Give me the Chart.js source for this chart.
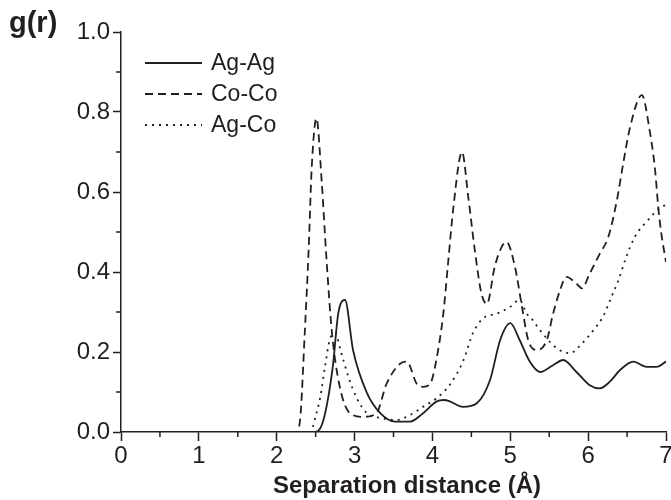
<!DOCTYPE html>
<html>
<head>
<meta charset="utf-8">
<script src="https://cdn.jsdelivr.net/npm/chart.js@4.4.1/dist/chart.umd.min.js"></script>
<style>
  html, body { margin: 0; padding: 0; background: #fff; }
</style>
</head>
<body>
<canvas id="rdfChart" width="671" height="500"></canvas>
<script>
// values (r in Å, g(r))
const seriesNames = ['Ag-Ag', 'Co-Co', 'Ag-Co'];

const rAgAg = [0, 2.50, 2.60, 2.72, 2.79, 2.877, 2.98, 3.16, 3.33, 3.52, 3.71, 3.88, 4.05, 4.15, 4.23, 4.39, 4.57, 4.74, 4.87, 5.00, 5.12, 5.25, 5.38, 5.55, 5.68, 5.85, 6.02, 6.15, 6.28, 6.41, 6.58, 6.75, 6.88, 7.00];
const gAgAg = [0, 0, 0.03, 0.163, 0.296, 0.33, 0.205, 0.097, 0.047, 0.026, 0.026, 0.047, 0.076, 0.08, 0.076, 0.063, 0.072, 0.13, 0.23, 0.272, 0.23, 0.176, 0.15, 0.167, 0.18, 0.15, 0.117, 0.109, 0.126, 0.155, 0.176, 0.163, 0.163, 0.176];

const rCoCo = [0, 2.25, 2.30, 2.36, 2.41, 2.45, 2.51, 2.58, 2.64, 2.71, 2.81, 2.94, 3.11, 3.28, 3.41, 3.58, 3.67, 3.80, 3.88, 3.97, 4.05, 4.14, 4.20, 4.27, 4.38, 4.46, 4.55, 4.63, 4.70, 4.80, 4.89, 4.95, 5.06, 5.15, 5.23, 5.34, 5.47, 5.55, 5.64, 5.72, 5.85, 5.92, 6.02, 6.15, 6.26, 6.37, 6.45, 6.54, 6.69, 6.79, 6.86, 6.90, 6.94, 7.00];
const gCoCo = [0, 0, 0.03, 0.247, 0.455, 0.663, 0.784, 0.62, 0.43, 0.247, 0.113, 0.047, 0.038, 0.047, 0.12, 0.17, 0.176, 0.12, 0.113, 0.12, 0.18, 0.296, 0.42, 0.563, 0.70, 0.588, 0.446, 0.346, 0.32, 0.413, 0.463, 0.475, 0.413, 0.313, 0.23, 0.205, 0.23, 0.296, 0.355, 0.388, 0.371, 0.359, 0.396, 0.446, 0.488, 0.58, 0.671, 0.763, 0.842, 0.754, 0.655, 0.563, 0.496, 0.425];

const rAgCo = [0, 2.45, 2.47, 2.56, 2.62, 2.68, 2.75, 2.83, 2.92, 3.03, 3.16, 3.37, 3.54, 3.71, 3.88, 4.05, 4.23, 4.40, 4.52, 4.65, 4.83, 5.00, 5.12, 5.21, 5.27, 5.38, 5.60, 5.77, 5.90, 6.07, 6.19, 6.30, 6.39, 6.49, 6.60, 6.77, 6.94, 7.00];
const gAgCo = [0, 0, 0.017, 0.088, 0.163, 0.23, 0.247, 0.197, 0.138, 0.084, 0.047, 0.034, 0.03, 0.042, 0.063, 0.084, 0.12, 0.18, 0.247, 0.284, 0.296, 0.313, 0.33, 0.296, 0.284, 0.255, 0.209, 0.197, 0.217, 0.255, 0.288, 0.338, 0.38, 0.438, 0.488, 0.53, 0.563, 0.567];

const xTicks = [0, 1, 2, 3, 4, 5, 6, 7];
const yTicks = [0, 0.2, 0.4, 0.6, 0.8, 1.0];
const xMinor = [0.5, 1.5, 2.5, 3.5, 4.5, 5.5, 6.5];
const yMinor = [0.1, 0.3, 0.5, 0.7, 0.9];
const xTitle = 'Separation distance (Å)';
const yTitle = 'g(r)';

const ink = '#231f20';
const fontFamily = "'Liberation Sans', Arial, sans-serif";

function toPoints(xs, ys) {
    return xs.map((x, i) => ({ x: x, y: ys[i] }));
}

const lineStyles = [[], [8, 5], [2, 5]];
const allSeries = [[rAgAg, gAgAg], [rCoCo, gCoCo], [rAgCo, gAgCo]];

const datasets = allSeries.map((s, i) => ({
    label: seriesNames[i],
    data: toPoints(s[0], s[1]),
    borderColor: ink,
    borderWidth: 1.8,
    borderDash: lineStyles[i],
    pointRadius: 0,
    fill: false,
    cubicInterpolationMode: 'monotone',
}));

// minor ticks, axis titles and the in-plot legend
const extrasPlugin = {
    id: 'extras',
    afterDraw(chart) {
        const ctx = chart.ctx;
        const xs = chart.scales.x, ys = chart.scales.y;
        const area = chart.chartArea;
        ctx.save();
        ctx.strokeStyle = ink;
        ctx.lineWidth = 1.5;
        ctx.beginPath();
        xMinor.forEach(v => {
            const px = xs.getPixelForValue(v);
            ctx.moveTo(px, area.bottom);
            ctx.lineTo(px, area.bottom + 5);
        });
        yMinor.forEach(v => {
            const py = ys.getPixelForValue(v);
            ctx.moveTo(area.left, py);
            ctx.lineTo(area.left - 5, py);
        });
        ctx.stroke();

        ctx.fillStyle = ink;
        ctx.textBaseline = 'alphabetic';

        // g(r)
        ctx.font = "bold 29px " + fontFamily;
        ctx.textAlign = 'left';
        ctx.fillText(yTitle, 9, 32);

        // x title
        ctx.font = "bold 24px " + fontFamily;
        ctx.textAlign = 'center';
        ctx.fillText(xTitle, 407, 493);

        // legend
        ctx.font = "23px " + fontFamily;
        ctx.textAlign = 'left';
        ctx.textBaseline = 'middle';
        chart.data.datasets.forEach((ds, i) => {
            const y = 63 + i * 31;
            ctx.setLineDash(ds.borderDash);
            ctx.lineWidth = ds.borderWidth;
            ctx.beginPath();
            ctx.moveTo(145, y);
            ctx.lineTo(202, y);
            ctx.stroke();
            ctx.setLineDash([]);
            ctx.fillText(ds.label, 211, y + 1);
        });
        ctx.restore();
    }
};

new Chart(document.getElementById('rdfChart'), {
    type: 'line',
    data: { datasets: datasets },
    options: {
        responsive: false,
        animation: false,
        layout: { padding: { top: 32, right: 5, bottom: 0, left: 0 } },
        plugins: {
            legend: { display: false },
            tooltip: { enabled: false },
        },
        scales: {
            x: {
                type: 'linear',
                min: 0,
                max: 7,
                afterBuildTicks: s => { s.ticks = xTicks.map(v => ({ value: v })); },
                afterFit: s => { s.height = 68; s.paddingLeft = 0; s.paddingRight = 0; },
                border: { color: ink, width: 1.5 },
                grid: { drawOnChartArea: false, tickLength: 9, tickColor: ink, tickWidth: 1.5 },
                ticks: {
                    color: ink,
                    padding: 1,
                    maxRotation: 0,
                    font: { family: fontFamily, size: 24 },
                },
            },
            y: {
                min: 0,
                max: 1,
                afterBuildTicks: s => { s.ticks = yTicks.map(v => ({ value: v })); },
                afterFit: s => { s.width = 121; },
                border: { color: ink, width: 1.5 },
                grid: { drawOnChartArea: false, tickLength: 8, tickColor: ink, tickWidth: 1.5 },
                ticks: {
                    color: ink,
                    padding: 3,
                    font: { family: fontFamily, size: 24 },
                    callback: v => v.toFixed(1),
                },
            },
        },
    },
    plugins: [extrasPlugin],
});
</script>
</body>
</html>
